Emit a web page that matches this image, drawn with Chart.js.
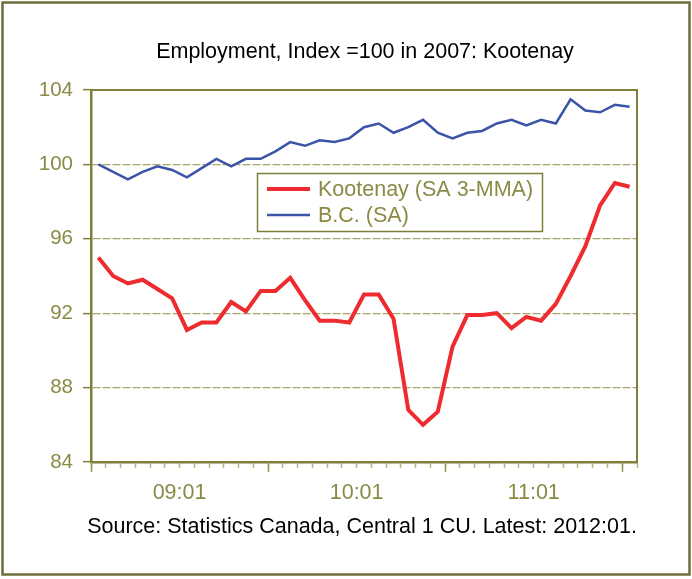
<!DOCTYPE html>
<html>
<head>
<meta charset="utf-8">
<title>Employment, Index =100 in 2007: Kootenay</title>
<script src="https://cdn.jsdelivr.net/npm/chart.js"></script>
<style>
  html, body { margin: 0; padding: 0; background: #fff; }
  #wrap { width: 692px; height: 579px; }
</style>
</head>
<body>
<div id="wrap"><canvas id="employmentChart" width="692" height="579"></canvas></div>
<script>
// Monthly categories, 2009:01 to 2012:01
const months = [
    '09:01', '09:02', '09:03', '09:04', '09:05', '09:06', '09:07', '09:08', '09:09', '09:10', '09:11', '09:12',
    '10:01', '10:02', '10:03', '10:04', '10:05', '10:06', '10:07', '10:08', '10:09', '10:10', '10:11', '10:12',
    '11:01', '11:02', '11:03', '11:04', '11:05', '11:06', '11:07', '11:08', '11:09', '11:10', '11:11', '11:12',
    '12:01'
];

const kootenay = [
    95.0, 94.0, 93.6, 93.8, 93.3, 92.8, 91.1, 91.5, 91.5, 92.6, 92.1, 93.2,
    93.2, 93.9, 92.7, 91.6, 91.6, 91.5, 93.0, 93.0, 91.7, 86.8, 86.0, 86.7,
    90.2, 91.9, 91.9, 92.0, 91.2, 91.8, 91.6, 92.5, 94.0, 95.6, 97.8, 99.0,
    98.8
];

const bc = [
    100.0, 99.6, 99.2, 99.6, 99.9, 99.7, 99.3, 99.8, 100.3, 99.9, 100.3, 100.3,
    100.7, 101.2, 101.0, 101.3, 101.2, 101.4, 102.0, 102.2, 101.7, 102.0, 102.4, 101.7,
    101.4, 101.7, 101.8, 102.2, 102.4, 102.1, 102.4, 102.2, 103.5, 102.9, 102.8, 103.2,
    103.1
];

const yearLabels = ['09:01', '10:01', '11:01'];
const seriesNames = ['Kootenay (SA 3-MMA)', 'B.C. (SA)'];

const OLIVE = '#7f7f3a';
const OLIVE_TEXT = '#8a8a45';
const GRID = '#a5a56c';
const FONT = '"Liberation Sans", Arial, sans-serif';

const decorPlugin = {
    id: 'decor',
    beforeDatasetsDraw(chart) {
        const ctx = chart.ctx;
        const a = chart.chartArea;
        ctx.save();
        // plot area frame (top and right)
        ctx.strokeStyle = OLIVE;
        ctx.lineWidth = 2;
        ctx.beginPath();
        ctx.moveTo(a.left, a.top);
        ctx.lineTo(a.right, a.top);
        ctx.lineTo(a.right, a.bottom);
        ctx.stroke();

        // longer tick marks at each January
        const x = chart.scales.x;
        const step = x.width / months.length;
        ctx.lineWidth = 1.5;
        ctx.strokeStyle = '#9a9a5a';
        months.forEach((m, i) => {
            if (!m.endsWith(':01')) return;
            const px = Math.round(x.getPixelForValue(i) - step / 2) + 0.5;
            ctx.beginPath();
            ctx.moveTo(px, a.bottom);
            ctx.lineTo(px, a.bottom + 10);
            ctx.stroke();
        });
        ctx.restore();
    },
    afterDraw(chart) {
        const ctx = chart.ctx;
        ctx.save();

        // outer border
        ctx.strokeStyle = '#6e6e3c';
        ctx.lineWidth = 2.5;
        ctx.strokeRect(2.5, 2.5, 687, 572);

        // title and source
        ctx.fillStyle = '#000';
        ctx.font = '21.5px ' + FONT;
        ctx.textAlign = 'center';
        ctx.textBaseline = 'middle';
        ctx.fillText('Employment, Index =100 in 2007: Kootenay', 365, 52);
        ctx.fillText('Source: Statistics Canada, Central 1 CU. Latest: 2012:01.', 362, 527);

        // legend
        ctx.fillStyle = '#fff';
        ctx.fillRect(257, 173, 286, 59);
        ctx.strokeStyle = OLIVE;
        ctx.lineWidth = 1.5;
        ctx.strokeRect(257.5, 173.5, 285, 58);
        ctx.textAlign = 'left';
        ctx.font = '21.5px ' + FONT;
        chart.data.datasets.forEach((ds, i) => {
            const y = 189 + i * 26;
            ctx.strokeStyle = ds.borderColor;
            ctx.lineWidth = ds.borderWidth;
            ctx.beginPath();
            ctx.moveTo(267, y);
            ctx.lineTo(310, y);
            ctx.stroke();
            ctx.fillStyle = OLIVE_TEXT;
            ctx.fillText(ds.label, 318, y + 1);
        });
        ctx.restore();
    }
};

new Chart(document.getElementById('employmentChart'), {
    type: 'line',
    data: {
        labels: months,
        datasets: [
            {
                label: seriesNames[0],
                data: kootenay,
                borderColor: '#ee2b2e',
                borderWidth: 4,
                pointRadius: 0,
                tension: 0,
                fill: false
            },
            {
                label: seriesNames[1],
                data: bc,
                borderColor: '#3a55a8',
                borderWidth: 2.5,
                pointRadius: 0,
                tension: 0,
                fill: false
            }
        ]
    },
    options: {
        responsive: false,
        animation: false,
        events: [],
        layout: {
            padding: { left: 0, right: 55, top: 90, bottom: 71 }
        },
        plugins: {
            legend: { display: false },
            title: { display: false },
            tooltip: { enabled: false }
        },
        scales: {
            x: {
                type: 'category',
                offset: true,
                grid: {
                    offset: true,
                    drawOnChartArea: false,
                    tickLength: 6,
                    tickColor: '#b3b385',
                    tickWidth: 1.5,
                    tickBorderDash: []
                },
                border: { color: OLIVE, width: 2.5 },
                ticks: { display: false },
                afterFit(scale) { scale.height = 6; }
            },
            x2: {
                type: 'linear',
                position: 'bottom',
                min: 0,
                max: months.length,
                grid: { display: false, drawTicks: false, tickLength: 0 },
                border: { display: false },
                afterBuildTicks(scale) {
                    scale.ticks = yearLabels.map(l => ({ value: months.indexOf(l) + 6 }));
                },
                ticks: {
                    autoSkip: false,
                    maxRotation: 0,
                    padding: 12,
                    color: OLIVE_TEXT,
                    font: { family: FONT, size: 21.5 },
                    callback: (v) => months[v - 6]
                },
                afterFit(scale) { scale.height = 40; }
            },
            y: {
                min: 84,
                max: 104,
                grid: {
                    color: GRID,
                    lineWidth: 1.3,
                    tickLength: 8,
                    tickColor: OLIVE,
                    tickWidth: 1.5,
                    tickBorderDash: []
                },
                border: { color: OLIVE, width: 2.5, dash: [8, 2] },
                ticks: {
                    stepSize: 4,
                    padding: 10,
                    color: OLIVE_TEXT,
                    font: { family: FONT, size: 20.5 }
                },
                afterFit(scale) { scale.width = 91; }
            }
        }
    },
    plugins: [decorPlugin]
});
</script>
</body>
</html>
